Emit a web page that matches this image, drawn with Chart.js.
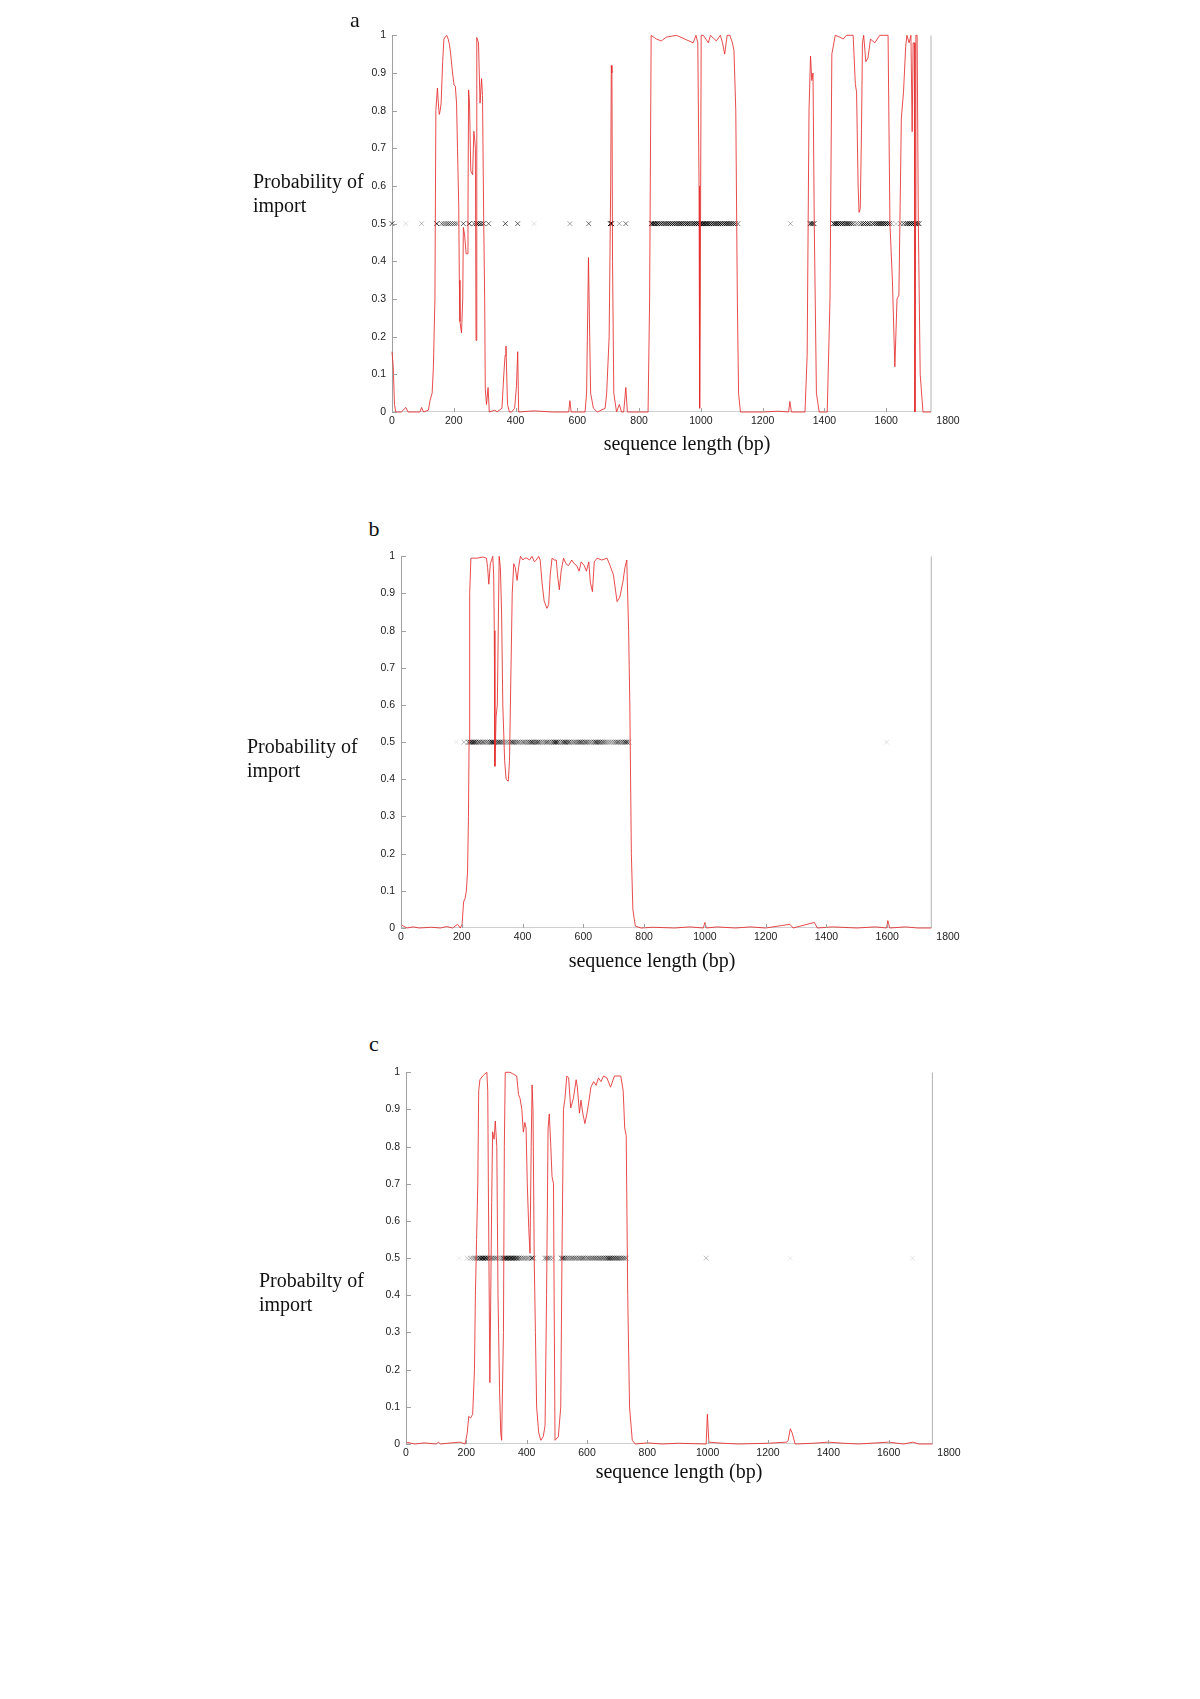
<!DOCTYPE html>
<html>
<head>
<meta charset="utf-8">
<script src="https://cdn.jsdelivr.net/npm/chart.js@4.4.1/dist/chart.umd.min.js"></script>
<style>
  body { margin: 0; background: #fff; width: 1200px; height: 1699px; position: relative; overflow: hidden; }
  canvas { position: absolute; }
  .txt { position: absolute; font-family: "Liberation Serif", "Times New Roman", serif; font-size: 20px; color: #111; line-height: 24px; white-space: nowrap; }
  .mid { transform: translate(-50%, -50%); }
</style>
</head>
<body>
<canvas id="chartA"></canvas>
<canvas id="chartB"></canvas>
<canvas id="chartC"></canvas>

<div class="txt mid" style="left:355px;top:20px;font-size:22px">a</div>
<div class="txt" style="left:253px;top:169px">Probability of<br>import</div>
<div class="txt mid" style="left:687px;top:443px">sequence length (bp)</div>

<div class="txt mid" style="left:374px;top:529px;font-size:22px">b</div>
<div class="txt" style="left:247px;top:734px">Probability of<br>import</div>
<div class="txt mid" style="left:652px;top:960px">sequence length (bp)</div>

<div class="txt mid" style="left:374px;top:1044px;font-size:22px">c</div>
<div class="txt" style="left:259px;top:1268px">Probabilty of<br>import</div>
<div class="txt mid" style="left:679px;top:1471px">sequence length (bp)</div>

<script>
// axis ticks
const xTicks = [0, 200, 400, 600, 800, 1000, 1200, 1400, 1600, 1800];
const yTickLabels = ["0", "0.1", "0.2", "0.3", "0.4", "0.5", "0.6", "0.7", "0.8", "0.9", "1"];
const seqEnd = 1745;     // end of the sequence (grey line)
const markLevel = 0.5;   // row on which the site crosses sit

// panel a: [position bp, probability of import]
const curveA = [[0,0.16],[4,0.12],[8,0.02],[12,0],[30,0],[45,0.012],[52,0],[90,0],[96,0.012],[102,0],[118,0.005],
  [123,0.03],[130,0.05],[134,0.12],[139,0.3],[142,0.8],[147,0.86],[150,0.82],[153,0.79],[156,0.8],[159,0.82],
  [164,0.93],[168,0.99],[172,0.995],[177,1],[182,0.99],[186,0.975],[190,0.95],[196,0.9],[201,0.868],[205,0.865],
  [209,0.82],[212,0.7],[216,0.55],[218,0.35],[220,0.24],[225,0.21],[229,0.3],[231,0.49],[235,0.47],[240,0.42],
  [244,0.42],[246,0.55],[248,0.855],[251,0.82],[255,0.64],[261,0.63],[265,0.745],[268,0.72],[270,0.7],[272,0.19],
  [274,0.6],[275,0.994],[280,0.98],[285,0.82],[290,0.885],[293,0.84],[297,0.5],[300,0.3],[302,0.06],[306,0.02],
  [311,0.065],[315,0],[333,0.005],[340,0],[356,0.01],[362,0.1],[366,0.15],[369,0.175],[374,0.02],[380,0],[387,0],
  [397,0.01],[403,0.07],[407,0.16],[410,0],[460,0.003],[520,0],[572,0],[576,0.03],[580,0],[625,0],[630,0.05],
  [636,0.41],[640,0.2],[643,0.05],[652,0.01],[665,0],[690,0.01],[695,0.05],[703,0.2],[708,0.6],[710,0.92],
  [712,0.9],[714,0.4],[718,0.05],[727,0],[736,0.02],[743,0],[750,0],[757,0.065],[762,0],[800,0],[829,0],
  [834,0.3],[839,1],[856,0.99],[872,0.985],[888,0.995],[921,1],[975,0.98],[984,1],[990,0.98],[994,0.6],
  [996,0.01],[998,0.3],[1001,1],[1008,1],[1024,0.98],[1031,1],[1050,0.985],[1063,1],[1070,0.98],[1077,0.95],
  [1085,1],[1094,1],[1102,0.98],[1107,0.96],[1113,0.8],[1118,0.3],[1122,0.05],[1128,0],[1200,0],[1250,0.002],
  [1284,0],[1288,0.028],[1293,0],[1337,0],[1344,0.15],[1350,0.8],[1355,0.945],[1359,0.88],[1363,0.9],[1367,0.5],
  [1374,0.05],[1383,0],[1409,0],[1418,0.3],[1424,0.95],[1435,1],[1450,0.995],[1461,0.99],[1471,1],[1493,1],
  [1500,0.87],[1504,0.85],[1509,0.6],[1512,0.53],[1516,0.54],[1520,0.75],[1523,0.98],[1527,1],[1534,0.93],
  [1541,0.94],[1549,0.99],[1563,0.98],[1579,1],[1606,1],[1612,0.5],[1620,0.35],[1628,0.12],[1635,0.3],[1641,0.31],
  [1649,0.78],[1656,0.85],[1663,0.97],[1667,1],[1674,0.98],[1680,1],[1684,0.744],[1687,0.98],[1691,0.98],
  [1693,0],[1695,0.5],[1696,1],[1700,1],[1704,0.5],[1710,0.1],[1719,0],[1745,0]];

// panel a: [site position bp, weight]
const marksA = [[0,0.7],[45,0.12],[96,0.25],[145,0.85],[161,0.5],[168,0.45],[175,0.5],[182,0.6],[189,0.5],
  [196,0.45],[203,0.5],[210,0.45],[231,0.6],[250,0.8],[266,0.55],[274,0.9],[280,0.85],[288,0.8],[296,0.7],
  [313,0.55],[367,0.65],[407,0.6],[460,0.12],[576,0.35],[637,0.55],[707,0.95],[711,0.9],[736,0.3],[757,0.5],
  [840,0.95],[845,0.9],[850,0.85],[855,0.7],[860,0.85],[866,0.7],[872,0.8],[878,0.65],[884,0.8],[890,0.7],
  [896,0.8],[902,0.75],[908,0.85],[914,0.7],[920,0.8],[926,0.75],[932,0.85],[938,0.9],[944,0.7],[950,0.85],
  [956,0.9],[962,0.75],[968,0.6],[974,0.8],[980,0.9],[986,0.85],[992,0.95],[998,0.9],[1003,0.95],[1008,0.9],
  [1013,0.95],[1018,0.85],[1023,0.9],[1028,0.8],[1034,0.85],[1040,0.75],[1046,0.9],[1052,0.8],[1058,0.85],
  [1064,0.9],[1070,0.75],[1076,0.8],[1082,0.9],[1088,0.85],[1094,0.8],[1100,0.75],[1106,0.7],[1112,0.6],
  [1120,0.5],[1290,0.3],[1354,0.9],[1360,0.85],[1366,0.85],[1430,0.9],[1435,0.85],[1440,0.9],[1446,0.8],
  [1452,0.85],[1458,0.9],[1464,0.7],[1470,0.85],[1476,0.9],[1482,0.75],[1488,0.6],[1494,0.5],[1503,0.4],
  [1510,0.3],[1518,0.6],[1526,0.8],[1533,0.7],[1540,0.8],[1547,0.65],[1556,0.7],[1562,0.6],[1568,0.8],
  [1574,0.85],[1580,0.9],[1586,0.9],[1592,0.85],[1598,0.9],[1604,0.8],[1610,0.7],[1617,0.3],[1632,0.2],
  [1646,0.4],[1656,0.6],[1664,0.7],[1670,0.8],[1676,0.9],[1682,0.85],[1688,0.9],[1694,0.9],[1700,0.85],[1706,0.8]];

// panel b
const curveB = [[0,0.01],[8,0.005],[20,0],[40,0.003],[60,0],[100,0.002],[130,0],[150,0.004],[170,0],[186,0.01],
  [195,0],[201,0.01],[206,0.07],[211,0.08],[215,0.1],[219,0.15],[222,0.3],[224,0.5],[226,0.9],[230,0.995],
  [250,0.995],[270,0.998],[281,0.995],[285,0.97],[289,0.925],[294,0.98],[302,1],[305,0.95],[307,0.8],[309,0.435],
  [313,0.57],[317,0.6],[320,0.8],[323,1],[327,0.97],[331,0.85],[335,0.6],[341,0.45],[346,0.4],[353,0.395],
  [357,0.45],[362,0.7],[366,0.9],[371,0.98],[376,0.97],[382,0.935],[387,0.97],[393,1],[401,0.99],[407,0.995],
  [414,0.995],[423,0.99],[431,1],[439,0.985],[445,0.99],[453,1],[458,0.99],[464,0.93],[471,0.88],[480,0.86],
  [486,0.87],[491,0.95],[497,0.995],[505,0.99],[511,0.99],[515,0.95],[521,0.91],[527,0.96],[535,0.995],
  [543,0.98],[551,0.975],[562,0.99],[570,0.98],[578,0.975],[586,0.96],[593,0.985],[603,0.975],[610,0.96],
  [618,0.985],[623,0.93],[630,0.905],[636,0.985],[645,0.995],[661,0.99],[678,0.995],[688,0.975],[699,0.95],
  [711,0.878],[720,0.89],[730,0.93],[737,0.97],[743,0.99],[749,0.8],[753,0.6],[758,0.2],[763,0.05],[771,0.005],
  [790,0],[830,0.002],[900,0],[950,0.003],[995,0],[1000,0.015],[1005,0],[1040,0.003],[1100,0],[1150,0.003],
  [1200,0],[1280,0.01],[1290,0],[1360,0.015],[1370,0],[1420,0.003],[1500,0],[1560,0.003],[1598,0],[1602,0.02],
  [1608,0],[1660,0.003],[1700,0],[1745,0]];

const marksB = [[182,0.08],[207,0.25],[222,0.6],[228,0.85],[234,0.8],[240,0.85],[246,0.75],[252,0.5],[258,0.7],
  [264,0.45],[270,0.6],[276,0.4],[282,0.5],[288,0.45],[294,0.75],[300,0.9],[306,0.8],[312,0.5],[318,0.75],
  [324,0.8],[330,0.6],[336,0.45],[342,0.3],[348,0.35],[354,0.3],[360,0.5],[366,0.75],[372,0.6],[378,0.45],
  [384,0.55],[390,0.4],[396,0.35],[402,0.5],[408,0.45],[414,0.4],[420,0.55],[426,0.7],[432,0.8],[438,0.55],
  [444,0.6],[450,0.75],[456,0.5],[462,0.4],[468,0.35],[474,0.45],[480,0.6],[486,0.5],[492,0.4],[498,0.55],
  [504,0.8],[510,0.9],[516,0.7],[522,0.35],[528,0.45],[534,0.7],[540,0.8],[546,0.6],[552,0.7],[558,0.45],
  [564,0.4],[570,0.5],[576,0.45],[582,0.55],[588,0.7],[594,0.75],[600,0.5],[606,0.6],[612,0.55],[618,0.4],
  [624,0.45],[630,0.35],[636,0.6],[642,0.75],[648,0.65],[654,0.7],[660,0.55],[666,0.6],[672,0.45],[678,0.35],
  [684,0.3],[690,0.35],[696,0.3],[702,0.4],[708,0.5],[714,0.6],[720,0.45],[726,0.5],[732,0.55],[738,0.8],
  [744,0.7],[750,0.35],[1598,0.12]];

// panel c
const curveC = [[0,0.005],[30,0],[60,0.003],[100,0],[107,0.005],[115,0],[150,0.003],[179,0.005],[196,0],
  [203,0.03],[208,0.074],[214,0.07],[221,0.08],[227,0.2],[230,0.4],[234,0.55],[238,0.7],[241,0.95],[245,0.98],
  [254,0.99],[261,0.995],[268,1],[271,0.95],[273,0.7],[278,0.165],[284,0.65],[287,0.84],[292,0.82],[296,0.869],
  [301,0.8],[305,0.4],[310,0.15],[314,0.03],[317,0.01],[323,0.3],[326,0.8],[329,1],[345,1],[356,0.995],
  [367,0.99],[373,0.94],[378,0.93],[384,0.9],[389,0.839],[394,0.865],[398,0.85],[402,0.7],[407,0.58],
  [411,0.513],[415,0.8],[418,0.966],[421,0.9],[425,0.5],[429,0.3],[433,0.1],[440,0.03],[447,0.01],[455,0.02],
  [461,0.05],[466,0.4],[471,0.85],[475,0.888],[480,0.8],[484,0.72],[489,0.7],[491,0.4],[494,0.01],[505,0.02],
  [513,0.1],[517,0.5],[522,0.9],[527,0.93],[533,0.99],[539,0.985],[546,0.904],[555,0.93],[564,0.98],[568,0.96],
  [575,0.89],[580,0.925],[586,0.89],[593,0.862],[600,0.89],[606,0.92],[613,0.96],[622,0.975],[630,0.965],
  [638,0.985],[646,0.975],[655,0.99],[666,0.985],[678,0.96],[691,0.99],[712,0.99],[720,0.95],[725,0.85],
  [730,0.83],[735,0.4],[741,0.1],[750,0.01],[760,0],[800,0.003],[850,0],[900,0.002],[995,0],[999,0.08],
  [1004,0.005],[1050,0.002],[1100,0],[1200,0.002],[1262,0.005],[1267,0.01],[1274,0.041],[1280,0.03],[1290,0],
  [1350,0.002],[1400,0.005],[1450,0.002],[1500,0],[1600,0.005],[1650,0],[1680,0.005],[1700,0],[1745,0]];

const marksC = [[177,0.08],[203,0.18],[214,0.35],[222,0.3],[229,0.45],[235,0.5],[241,0.55],[246,0.8],[251,0.85],
  [256,0.9],[261,0.85],[266,0.8],[272,0.7],[279,0.45],[285,0.5],[291,0.4],[297,0.55],[303,0.35],[310,0.3],
  [317,0.4],[323,0.8],[328,0.85],[333,0.9],[338,0.85],[343,0.8],[348,0.85],[353,0.9],[358,0.8],[363,0.75],
  [368,0.7],[374,0.6],[380,0.45],[386,0.4],[392,0.45],[398,0.35],[404,0.4],[410,0.3],[417,0.85],[423,0.4],
  [460,0.4],[466,0.55],[472,0.5],[478,0.35],[486,0.3],[515,0.6],[520,0.75],[526,0.65],[532,0.5],[538,0.45],
  [544,0.4],[550,0.5],[556,0.45],[562,0.55],[568,0.4],[574,0.5],[580,0.45],[586,0.6],[592,0.5],[598,0.4],
  [604,0.55],[610,0.45],[616,0.5],[622,0.55],[628,0.6],[634,0.5],[640,0.55],[646,0.5],[652,0.6],[658,0.55],
  [664,0.65],[670,0.75],[676,0.8],[682,0.7],[688,0.75],[694,0.7],[700,0.65],[706,0.6],[712,0.55],[718,0.6],
  [724,0.5],[730,0.45],[995,0.25],[1274,0.08],[1679,0.1]];

const axisGray = "#a0a0a0";
const lineRed = "rgba(228,45,45,0.85)";

// Matlab style ticks pointing into the plot, only along the drawn axis part
const inwardTicks = {
  id: "inwardTicks",
  afterDatasetsDraw(chart) {
    const { ctx, chartArea, scales } = chart;
    const x = scales.x, y = scales.y;
    ctx.save();
    ctx.strokeStyle = axisGray;
    ctx.lineWidth = 1;
    ctx.beginPath();
    x.ticks.forEach((t) => {
      if (t.value > seqEnd) return;
      const px = Math.round(x.getPixelForValue(t.value)) + 0.5;
      ctx.moveTo(px, chartArea.bottom);
      ctx.lineTo(px, chartArea.bottom - 4);
    });
    y.ticks.forEach((t) => {
      const py = Math.round(y.getPixelForValue(t.value)) + 0.5;
      ctx.moveTo(chartArea.left, py);
      ctx.lineTo(chartArea.left + 5, py);
    });
    ctx.stroke();
    ctx.restore();
  }
};

function buildPanel(canvasId, area, curve, marks) {
  const cv = document.getElementById(canvasId);
  const padL = 60, padT = 10, padR = 30, padB = 28;
  cv.width = area.right - area.left + padL + padR;
  cv.height = area.bottom - area.top + padT + padB;
  cv.style.left = (area.left - padL) + "px";
  cv.style.top = (area.top - padT) + "px";

  const tickFont = { family: "'Liberation Sans', Arial, sans-serif", size: 10.5 };

  return new Chart(cv.getContext("2d"), {
    type: "line",
    data: {
      datasets: [
        {
          label: "sites",
          type: "scatter",
          data: marks.map((m) => ({ x: m[0], y: markLevel })),
          pointStyle: "crossRot",
          pointRadius: 3.4,
          pointBorderWidth: 1,
          pointBackgroundColor: "rgba(0,0,0,0)",
          pointBorderColor: marks.map((m) => "rgba(0,0,0," + m[1] + ")"),
          showLine: false,
          clip: false,
          order: 2
        },
        {
          label: "end",
          data: [{ x: seqEnd, y: 0 }, { x: seqEnd, y: 1 }],
          borderColor: "#b4b4b4",
          borderWidth: 1,
          pointRadius: 0,
          order: 3
        },
        {
          label: "baseline",
          data: [{ x: 0, y: 0 }, { x: seqEnd, y: 0 }],
          borderColor: axisGray,
          borderWidth: 1,
          pointRadius: 0,
          order: 4
        },
        {
          label: "probability",
          data: curve.map((c) => ({ x: c[0], y: c[1] })),
          borderColor: lineRed,
          borderWidth: 1,
          pointRadius: 0,
          tension: 0,
          clip: false,
          order: 1
        }
      ]
    },
    options: {
      responsive: false,
      animation: false,
      devicePixelRatio: 1,
      layout: { padding: { top: padT, right: padR, left: 0, bottom: 0 } },
      plugins: { legend: { display: false }, tooltip: { enabled: false } },
      scales: {
        x: {
          type: "linear",
          min: xTicks[0],
          max: xTicks[xTicks.length - 1],
          afterBuildTicks: (s) => { s.ticks = xTicks.map((v) => ({ value: v })); },
          afterFit: (s) => { s.height = padB; },
          grid: { display: false, drawTicks: false },
          border: { display: false },
          ticks: { font: tickFont, color: "#222", padding: 3, maxRotation: 0, autoSkip: false,
                   callback: (v) => String(v) }
        },
        y: {
          type: "linear",
          min: 0,
          max: 1,
          afterBuildTicks: (s) => { s.ticks = yTickLabels.map((l) => ({ value: Number(l) })); },
          afterFit: (s) => { s.width = padL; },
          grid: { display: false, drawTicks: false },
          border: { display: true, color: axisGray, width: 1 },
          ticks: { font: tickFont, color: "#222", padding: 6, autoSkip: false,
                   callback: (v, i) => yTickLabels[i] }
        }
      }
    },
    plugins: [inwardTicks]
  });
}

buildPanel("chartA", { left: 392, right: 948, top: 33, bottom: 412 }, curveA, marksA);
buildPanel("chartB", { left: 401, right: 948, top: 554, bottom: 928 }, curveB, marksB);
buildPanel("chartC", { left: 406, right: 949, top: 1070, bottom: 1444 }, curveC, marksC);
</script>
</body>
</html>
